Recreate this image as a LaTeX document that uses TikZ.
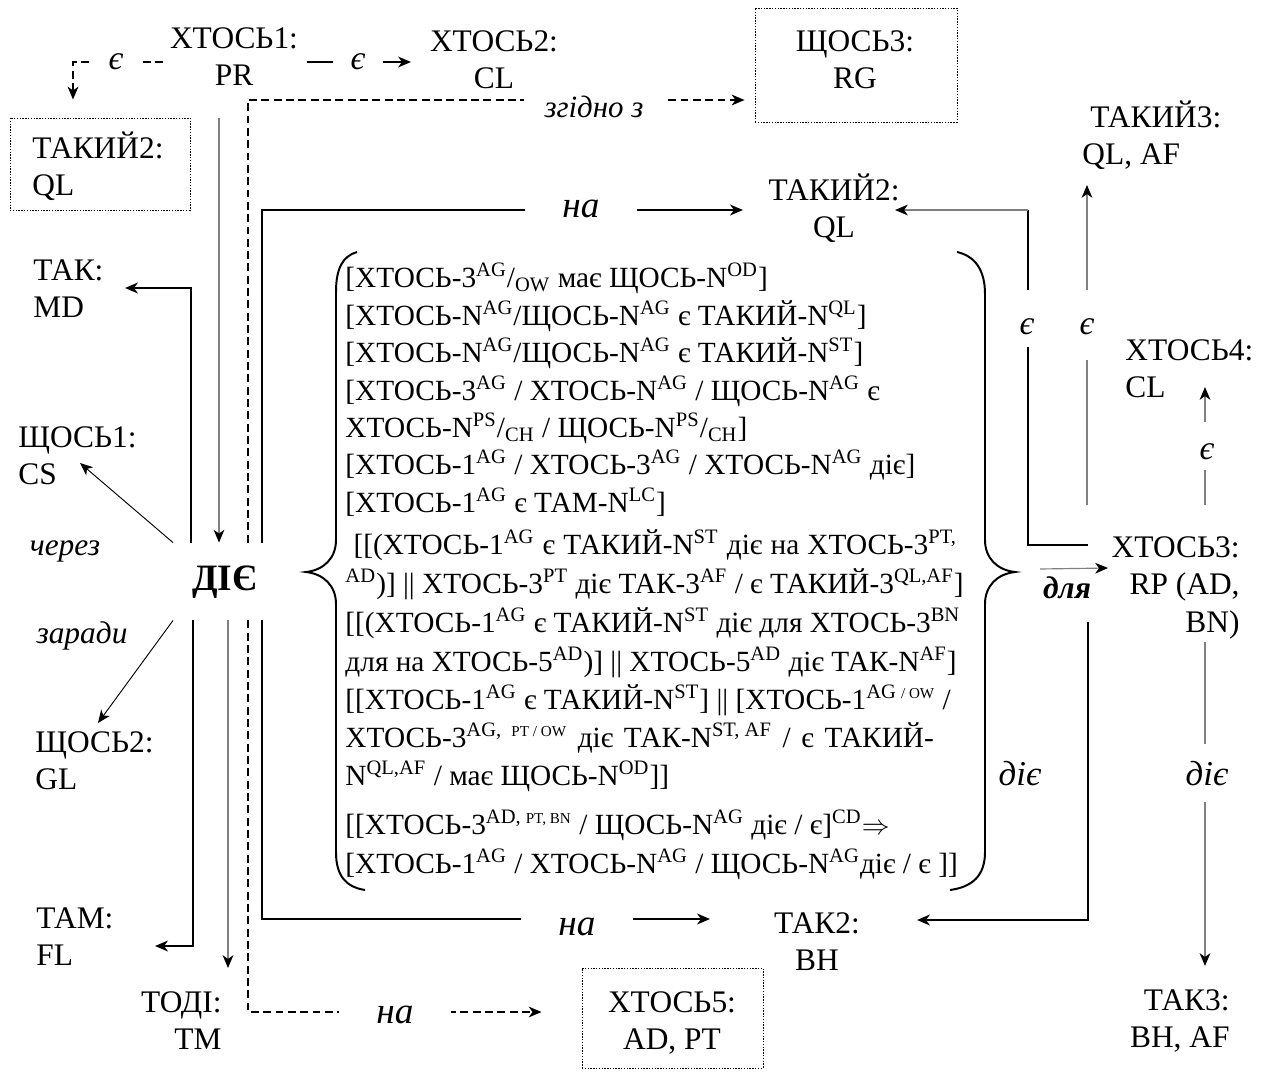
\documentclass[tikz,border=0pt]{standalone}
\usepackage{fontspec}
\setmainfont{Liberation Serif}
\usetikzlibrary{arrows.meta,fit}
% label whose base anchor sits on the first baseline
\newcommand\lblock[2]{\begin{tabular}[t]{@{}#1@{}}#2\end{tabular}}
\newcommand\supx[1]{\textsuperscript{#1}}
\newcommand\subx[1]{\textsubscript{#1}}
\newcommand\smsup{\fontsize{6.5}{7}\selectfont}
% a justified formula line stretched to a given width
\newcommand\fullline[2]{\makebox[#1][s]{#2}}
\tikzset{
  lbl/.style={inner sep=0pt, font=\fontsize{13.5}{16.3}\selectfont},
  brk/.style={inner sep=0pt, anchor=base west, font=\fontsize{12.6}{14}\selectfont},
  elab/.style={fill=white, inner ysep=1pt, anchor=base, font=\fontsize{14.5}{16}\selectfont\itshape},
  thickline/.style={line width=1.1pt, black},
  medline/.style={line width=0.6pt, black},
  thinline/.style={line width=0.5pt, black!50},
  diagline/.style={line width=0.4pt, black},
  dashline/.style={line width=0.75pt, black, dash pattern=on 3.4pt off 1.9pt},
  dotbox/.style={draw, line width=0.4pt, dash pattern=on 0.6pt off 0.6pt, inner sep=0pt},
  braceline/.style={line width=0.85pt, black},
  arr/.style={-{Stealth[length=5.5pt,width=4.6pt,inset=1.6pt,color=black]}}
}
\begin{document}
\begin{tikzpicture}[x=0.43pt,y=-0.43pt]
\useasboundingbox (0,0) rectangle (1272,1073);
\fill[white] (0,0) rectangle (1272,1073);

% dotted frames
\node[dotbox, fit={(10,118) (190,210)}] (t2abox) {};
\node[dotbox, fit={(755,8) (957,122)}] (s3box) {};
\node[dotbox, fit={(582,968) (763,1068)}] (x5box) {};

% role labels
\node[lbl, anchor=base] (x1) at (234,48) {\lblock{c}{ХТОСЬ1:\\PR}};
\node[lbl, anchor=base] (x2) at (494,51) {\lblock{c}{ХТОСЬ2:\\CL}};
\node[lbl, anchor=base] (s3) at (855,51) {\lblock{c}{ЩОСЬ3:\\RG}};
\node[lbl, anchor=base west] (t2a) at (32,158) {\lblock{l}{ТАКИЙ2:\\QL}};
\node[lbl, anchor=base] (tk2) at (834,200) {\lblock{c}{ТАКИЙ2:\\QL}};
\node[lbl, anchor=base west] (tk3) at (1082,127) {\lblock{l}{\ ТАКИЙ3:\\QL, AF}};
\node[lbl, anchor=base west] (tak) at (33,280) {\lblock{l}{ТАК:\\MD}};
\node[lbl, anchor=base west] (x4) at (1125,360) {\lblock{l}{ХТОСЬ4:\\CL}};
\node[lbl, anchor=base west] (s1) at (18,447) {\lblock{l}{ЩОСЬ1:\\CS}};
\node[lbl, anchor=base east] (x3) at (1240,557) {\lblock{r}{ХТОСЬ3:\\RP (AD,\\BN)}};
\node[lbl, anchor=base west] (s2) at (35,752) {\lblock{l}{ЩОСЬ2:\\GL}};
\node[lbl, anchor=base west] (tam) at (36,928) {\lblock{l}{ТАМ:\\FL}};
\node[lbl, anchor=base] (tak2) at (817,933) {\lblock{c}{ТАК2:\\BH}};
\node[lbl, anchor=base east] (todi) at (222,1012) {\lblock{r}{ТОДІ:\\TM}};
\node[lbl, anchor=base] (x5) at (672,1012) {\lblock{c}{ХТОСЬ5:\\AD, PT}};
\node[lbl, anchor=base east] (tak3) at (1230,1010) {\lblock{r}{ТАК3:\\BH, AF}};

% central verb
\node[inner sep=0pt, anchor=base, text height=20.2pt, text depth=12.9pt,
      font=\fontsize{16}{18}\selectfont\bfseries] (die) at (225,590) {ДІЄ};

% bracketed formulas
\node[brk] (b1) at (345,287) {[ХТОСЬ-3\supx{AG}/\subx{OW} має ЩОСЬ-N\supx{OD}]};
\node[brk] (b2) at (345,325) {[ХТОСЬ-N\supx{AG}/ЩОСЬ-N\supx{AG} є ТАКИЙ-N\supx{QL}]};
\node[brk] (b3) at (345,362) {[ХТОСЬ-N\supx{AG}/ЩОСЬ-N\supx{AG} є ТАКИЙ-N\supx{ST}]};
\node[brk] (b4) at (345,400) {[ХТОСЬ-3\supx{AG} / ХТОСЬ-N\supx{AG} / ЩОСЬ-N\supx{AG} є};
\node[brk] (b5) at (345,437) {ХТОСЬ-N\supx{PS}/\subx{CH} / ЩОСЬ-N\supx{PS}/\subx{CH}]};
\node[brk] (b6) at (345,474) {[ХТОСЬ-1\supx{AG} / ХТОСЬ-3\supx{AG} / ХТОСЬ-N\supx{AG} діє]};
\node[brk] (b7) at (345,512) {[ХТОСЬ-1\supx{AG} є ТАМ-N\supx{LC}]};
\node[brk] (b8) at (345,554) {\fullline{263pt}{\ [[(ХТОСЬ-1\supx{AG} є ТАКИЙ-N\supx{ST} діє на ХТОСЬ-3\supx{PT,}}};
\node[brk] (b9) at (345,593) {\supx{AD})] || ХТОСЬ-3\supx{PT} діє ТАК-3\supx{AF} / є ТАКИЙ-3\supx{QL,AF}]};
\node[brk] (b10) at (345,632) {[[(ХТОСЬ-1\supx{AG} є ТАКИЙ-N\supx{ST} діє для ХТОСЬ-3\supx{BN}};
\node[brk] (b11) at (345,671) {для на ХТОСЬ-5\supx{AD})] || ХТОСЬ-5\supx{AD} діє ТАК-N\supx{AF}]};
\node[brk] (b12) at (345,709) {[[ХТОСЬ-1\supx{AG} є ТАКИЙ-N\supx{ST}] || [ХТОСЬ-1\supx{AG {\smsup/ OW}} /};
\node[brk] (b13) at (345,747) {\fullline{253pt}{ХТОСЬ-3\supx{AG,\ \ {\smsup PT / OW}} діє ТАК-N\supx{ST, AF} / є ТАКИЙ-}};
\node[brk] (b14) at (345,785) {N\supx{QL,AF} / має ЩОСЬ-N\supx{OD}]]};
\node[brk] (b15) at (345,834) {[[ХТОСЬ-3\supx{AD,\ {\smsup PT, BN}} / ЩОСЬ-N\supx{AG} діє / є]\supx{CD}$\Rightarrow$};
\node[brk] (b16) at (345,873) {[ХТОСЬ-1\supx{AG} / ХТОСЬ-N\supx{AG} / ЩОСЬ-N\supx{AG}діє / є ]]};

% braces round the formulas
\draw[braceline] (357,252) .. controls (343,256) and (336,268) .. (336,292)
  -- (336,540) .. controls (336,558) and (324,570) .. (306,572)
  .. controls (324,574) and (336,586) .. (336,604)
  -- (336,852) .. controls (336,876) and (346,887) .. (365,890);
\draw[braceline] (957,252) .. controls (975,256) and (985,270) .. (985,294)
  -- (985,540) .. controls (985,558) and (997,570) .. (1015,572)
  .. controls (997,574) and (985,586) .. (985,604)
  -- (985,852) .. controls (985,876) and (972,887) .. (950,890);
\coordinate (rcusp) at (1015,572);

% connectors at the top
\draw[medline, arr] ([shift={(73,14)}]x1.base) -- ([shift={(-83,11)}]x2.base);
\draw[dashline, arr] ([shift={(-71,14)}]x1.base) -| ([shift={(-27,-18)}]t2abox.north);
\draw[thinline, arr] ([shift={(-15,70)}]x1.base) -- ([shift={(-6,0)}]die.north);

% connectors leaving the verb
\draw[dashline, arr] ([shift={(23,0)}]die.north) |- ([shift={(-10,35)}]s3box.west);
\draw[dashline, arr] ([shift={(23,0)}]die.south) |- ([shift={(-40,-6)}]x5box.west);
\draw[thickline, arr] ([shift={(37,0)}]die.north) |- ([shift={(-91,10)}]tk2.base);
\draw[thickline, arr] ([shift={(37,0)}]die.south) |- ([shift={(-107,-14)}]tak2.base);
\draw[thickline, arr] ([shift={(-34,0)}]die.north) |- ([shift={(92,8)}]tak.base west);
\draw[thickline, arr] ([shift={(-32,0)}]die.south) |- ([shift={(119,18)}]tam.base west);
\draw[thinline, arr] ([shift={(3,0)}]die.south) -- ([shift={(6,-44)}]todi.base east);
\draw[diagline, arr] ([shift={(-52,0)}]die.north) -- ([shift={(62,16)}]s1.base west);
\draw[diagline, arr] ([shift={(-52,0)}]die.south) -- ([shift={(63,-29)}]s2.base west);

% connectors on the right
\draw[thickline] ([shift={(-152,-12)}]x3.base east) -| ([shift={(194,10)}]tk2.base);
\draw[thinline, arr] ([shift={(194,10)}]tk2.base) -- ([shift={(61,10)}]tk2.base);
\draw[thinline, arr] ([shift={(-153,-52)}]x3.base east) -- ([shift={(5,58)}]tk3.base west);
\draw[thinline, arr] ([shift={(-35,-52)}]x3.base east) -- ([shift={(80,27)}]x4.base west);
\draw[thinline, arr] ([shift={(25,-3)}]rcusp) -- ([shift={(-132,11)}]x3.base east);
\draw[thickline, arr] ([shift={(-152,65)}]x3.base east) |- ([shift={(100,-13)}]tak2.base);
\draw[thinline, arr] ([shift={(-35,85)}]x3.base east) -- ([shift={(-25,-44)}]tak3.base east);

% connector labels
\node[elab, inner xsep=7.5pt] (e1) at (358,69) {є};
\node[elab, inner xsep=8pt] (e2) at (116,69) {є};
\node[elab, inner xsep=9pt, font=\fontsize{13.3}{15}\selectfont\itshape] (zg) at (594,117) {згідно з};
\node[elab, inner xsep=16pt, font=\fontsize{16}{18}\selectfont\itshape] (na1) at (581,217) {на};
\node[elab, inner xsep=16pt, font=\fontsize{16}{18}\selectfont\itshape] (na2) at (577,935) {на};
\node[elab, inner xsep=16pt, font=\fontsize{16}{18}\selectfont\itshape] (na3) at (395,1023) {на};
\node[inner sep=0pt, anchor=base, font=\fontsize{13.5}{15}\selectfont\itshape] (cherez) at (65,555) {через};
\node[inner sep=0pt, anchor=base, font=\fontsize{13.5}{15}\selectfont\itshape] (zarady) at (82,643) {заради};
\node[elab, inner sep=0pt, text height=18.9pt, text depth=5.6pt] (e3) at (1027,334) {є};
\node[elab, inner sep=0pt, text height=18.9pt, text depth=11pt] (e4) at (1087,334) {є};
\node[elab, inner sep=0pt, text height=15.9pt, text depth=4.7pt] (e5) at (1207,459) {є};
\node[inner sep=0pt, anchor=base, font=\fontsize{13.5}{15}\selectfont\bfseries\itshape] (dlya) at (1067,598) {для};
\node[inner sep=0pt, anchor=base, font=\fontsize{15}{17}\selectfont\itshape] (acts1) at (1020,785) {діє};
\node[elab, inner sep=0pt, text height=17.6pt, text depth=7.3pt, font=\fontsize{15}{17}\selectfont\itshape] (acts2) at (1207,785) {діє};
\end{tikzpicture}
\end{document}
